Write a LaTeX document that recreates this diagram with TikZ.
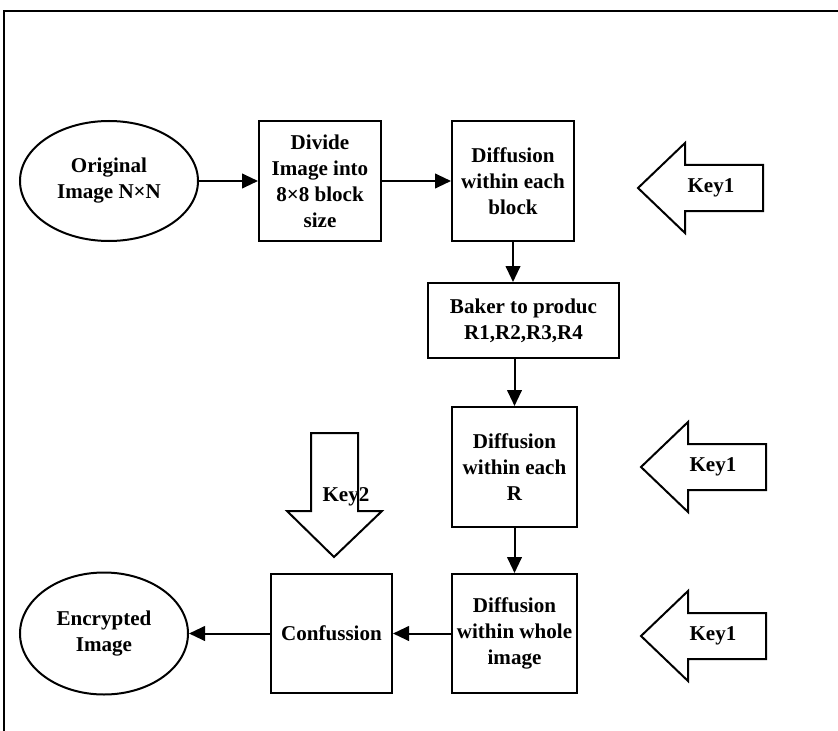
\documentclass[tikz,border=0pt]{standalone}
\usepackage{fontspec}
\setmainfont{Liberation Serif}
\usepackage{tikz}
\usetikzlibrary{shapes.geometric, arrows.meta, positioning, calc}

\begin{document}
\begin{tikzpicture}[
  x=0.75pt, y=-0.75pt,
  blockbox/.style={rectangle, draw, line width=1.5pt, align=center, inner sep=2pt, font=\fontsize{15.8}{19.5}\selectfont\bfseries},
  ovalnode/.style={ellipse, draw, line width=1.5pt, align=center, inner sep=2pt, font=\fontsize{15.8}{19.5}\selectfont\bfseries},
  keyarrow/.style={draw, line width=1.5pt, line join=miter},
  keylbl/.style={inner sep=0pt, font=\fontsize{15.8}{19.5}\selectfont\bfseries},
  arr/.style={-{Triangle[length=12pt, width=11pt]}, line width=1.5pt},
]
\useasboundingbox (0,0) rectangle (838,731);
% frame (top and left only)
\draw[line width=1.6pt] (4,731) -- (4,11) -- (838,11);

\node[ovalnode, minimum width=133.5pt, minimum height=90pt] (orig) at (109,181) {Original\\Image N×N};
\node[blockbox, minimum width=91.5pt, minimum height=90pt] (divide) at (320,181) {Divide\\Image into\\8×8 block\\size};
\node[blockbox, minimum width=91.5pt, minimum height=90pt] (diffblk) at (513,181) {Diffusion\\within each\\block};
\node[blockbox, minimum width=143.25pt, minimum height=56.25pt] (baker) at (523.5,320.5) {Baker to produc\\R1,R2,R3,R4};
\node[blockbox, minimum width=93.75pt, minimum height=90pt] (diffr) at (514.5,467) {Diffusion\\within each\\R};
\node[blockbox, minimum width=93.75pt, minimum height=89.25pt] (diffwhole) at (514.5,633.5) {Diffusion\\within whole\\image};
\node[blockbox, minimum width=90.75pt, minimum height=89.25pt] (conf) at (331.5,633.5) {Confussion};
\node[ovalnode, minimum width=126pt, minimum height=91.5pt] (enc) at (104,633.5) {Encrypted\\Image};

\draw[arr] (orig) -- (divide);
\draw[arr] (divide) -- (diffblk);
\draw[arr] (diffblk) -- (diffblk |- baker.north);
\draw[arr] (baker.south -| diffr) -- (diffr);
\draw[arr] (diffr) -- (diffwhole);
\draw[arr] (diffwhole) -- (conf);
\draw[arr] (conf) -- (enc);

% key arrows
\coordinate (k1a) at (638,188);
\coordinate (k1b) at (641,467);
\coordinate (k1c) at (641,636);
\coordinate (k2) at (334,557);
\draw[keyarrow] (k1a) -- ++(47,-45) -- ++(0,22) -- ++(78,0) -- ++(0,46) -- ++(-78,0) -- ++(0,22) -- cycle;
\draw[keyarrow] (k1b) -- ++(47,-45) -- ++(0,22) -- ++(78,0) -- ++(0,46) -- ++(-78,0) -- ++(0,22) -- cycle;
\draw[keyarrow] (k1c) -- ++(47,-45) -- ++(0,22) -- ++(78,0) -- ++(0,46) -- ++(-78,0) -- ++(0,22) -- cycle;
\draw[keyarrow] (k2) -- ++(-47,-46) -- ++(24,0) -- ++(0,-78) -- ++(47,0) -- ++(0,78) -- ++(24,0) -- cycle;
\node[keylbl] (key1a) at (711,188) {Key1};
\node[keylbl] (key1b) at (713,467) {Key1};
\node[keylbl] (key1c) at (713,636) {Key1};
\node[keylbl] (key2) at (346,497) {Key2};
\end{tikzpicture}
\end{document}
